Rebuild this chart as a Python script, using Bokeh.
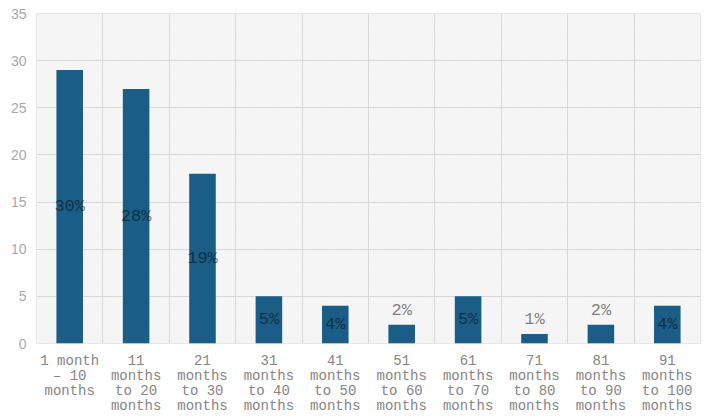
from bokeh.plotting import figure
from bokeh.layouts import column
from bokeh.models import FixedTicker, BoxAnnotation, ColumnDataSource
from bokeh.core.properties import value
from bokeh.embed import file_html
from bokeh.resources import INLINE

categories = [
    "1 month\n\u2013 10\nmonths",
    "11\nmonths\nto 20\nmonths",
    "21\nmonths\nto 30\nmonths",
    "31\nmonths\nto 40\nmonths",
    "41\nmonths\nto 50\nmonths",
    "51\nmonths\nto 60\nmonths",
    "61\nmonths\nto 70\nmonths",
    "71\nmonths\nto 80\nmonths",
    "81\nmonths\nto 90\nmonths",
    "91\nmonths\nto 100\nmonths",
]
counts = [29, 27, 18, 5, 4, 2, 5, 1, 2, 4]
percents = ["30%", "28%", "19%", "5%", "4%", "2%", "5%", "1%", "2%", "4%"]
y_ticks = [0, 5, 10, 15, 20, 25, 30, 35]

n = len(categories)
xs = [i + 0.5 for i in range(n)]
y_max = 35

p = figure(frame_width=664, frame_height=330, x_range=(0, n), y_range=(0, y_max),
           output_backend="svg", toolbar_location=None,
           min_border_left=36, min_border_right=8, min_border_top=13, min_border_bottom=9)
p.background_fill_color = "#f0f0f0"
p.border_fill_color = "white"
p.outline_line_color = "#e0e0e0"

bg = BoxAnnotation(fill_color="#f0f0f0", fill_alpha=1.0, line_color=None,
                   hatch_pattern="left_diagonal_line", hatch_color="white",
                   hatch_alpha=0.55, hatch_scale=3, hatch_weight=1, level="image")
p.add_layout(bg)

p.xgrid.ticker = FixedTicker(ticks=list(range(n + 1)))
p.ygrid.ticker = FixedTicker(ticks=y_ticks)
p.xgrid.grid_line_color = "#d8d8d8"
p.ygrid.grid_line_color = "#d8d8d8"

src = ColumnDataSource(dict(x=xs, top=counts, label=percents))
p.vbar(x="x", top="top", width=0.4, source=src, fill_color="#1a5e87", line_color=None)

inside = [i for i in range(n) if counts[i] >= 3]
above = [i for i in range(n) if counts[i] < 3]
src_in = ColumnDataSource(dict(x=[xs[i] for i in inside], y=[counts[i] / 2 for i in inside],
                               label=[percents[i] for i in inside]))
src_ab = ColumnDataSource(dict(x=[xs[i] for i in above], y=[counts[i] for i in above],
                               label=[percents[i] for i in above]))
p.text(x="x", y="y", text="label", source=src_in, text_font=value("Liberation Mono"),
       text_font_size="17px", text_align="center", text_baseline="middle",
       text_color="black", text_alpha=0.5)
p.text(x="x", y="y", text="label", source=src_ab, text_font=value("Liberation Mono"),
       text_font_size="17px", text_align="center", text_baseline="bottom",
       y_offset=-5, text_color="black", text_alpha=0.5)

p.xaxis.visible = False

p.yaxis.ticker = FixedTicker(ticks=y_ticks)
p.yaxis.major_label_text_font = "Liberation Sans"
p.yaxis.major_label_text_font_size = "14px"
p.yaxis.major_label_text_color = "#a8a8a8"
p.yaxis.major_label_standoff = 10
p.yaxis.axis_line_color = None
p.yaxis.major_tick_line_color = None
p.yaxis.minor_tick_line_color = None
p.yaxis.major_tick_out = 0
p.yaxis.major_tick_in = 0

# category label strip sharing the x range, with tighter line spacing
strip_h = 66
p2 = figure(frame_width=664, frame_height=strip_h, x_range=p.x_range, y_range=(0, strip_h),
            output_backend="svg", toolbar_location=None,
            min_border_left=36, min_border_right=8, min_border_top=0, min_border_bottom=0)
p2.axis.visible = False
p2.grid.visible = False
p2.outline_line_color = None
p2.background_fill_color = "white"
p2.border_fill_color = "white"
cat_src = ColumnDataSource(dict(x=xs, y=[strip_h] * n, label=categories))
p2.text(x="x", y="y", text="label", source=cat_src,
        text_font=value("Liberation Mono"), text_font_size="14px",
        text_color="#858585", text_align="center", text_baseline="top",
        text_line_height=0.94)

layout = column(p, p2, spacing=0)
open("out.html", "w").write(file_html(layout, INLINE))
